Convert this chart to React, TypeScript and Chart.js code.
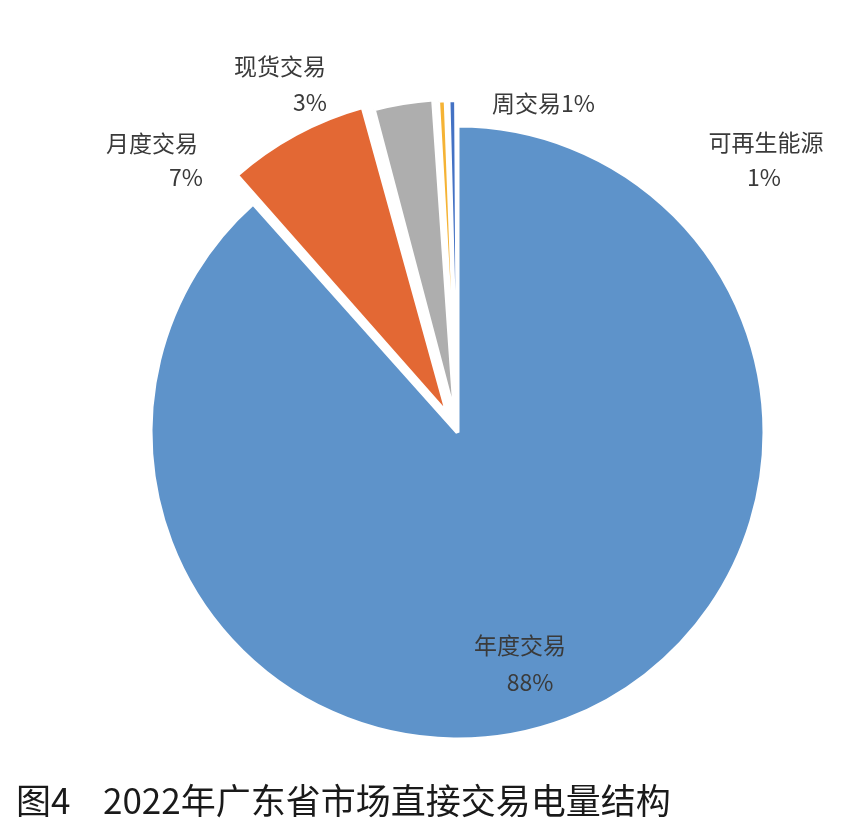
import React, { useEffect, useRef } from 'react';
import { Chart, registerables } from 'chart.js';

Chart.register(...registerables);

// ---- data ----
const categories = ['年度交易', '月度交易', '现货交易', '周交易', '可再生能源'];
const shares = [88.4, 7.4, 3.2, 0.5, 0.5];
const percentLabels = ['88%', '7%', '3%', '1%', '1%'];
const sliceColors = ['#5E93CA', '#E36834', '#AEAEAE', '#F5B335', '#4472C4'];
const sliceOffsets = [0, 84, 60, 50, 50];
const sliceBorders = [4, 4, 4, 2.5, 2.5];
const figureNumber = '图4';
const figureTitle = '2022年广东省市场直接交易电量结构';

// ---- label layout (page coordinates of label centres) ----
type LabelPlace = { name: [number, number]; pct: [number, number] | null; inline?: boolean };
const labelLayout: LabelPlace[] = [
  { name: [520, 645], pct: [530, 682] },
  { name: [152, 143], pct: [186, 177] },
  { name: [280, 66], pct: [310, 102] },
  { name: [492, 103], pct: null, inline: true },
  { name: [766, 142], pct: [764, 177] },
];

const FONT = '"Noto Sans CJK SC", "Noto Sans", sans-serif';

const labelPlugin = {
  id: 'pieLabels',
  afterDraw(chart: any) {
    const ctx = chart.ctx as CanvasRenderingContext2D;
    ctx.save();
    ctx.fillStyle = '#3a3a3a';
    ctx.font = `23px ${FONT}`;
    ctx.textBaseline = 'middle';
    categories.forEach((cat, i) => {
      const lay = labelLayout[i];
      if (lay.inline) {
        ctx.textAlign = 'left';
        ctx.fillText(cat + percentLabels[i], lay.name[0], lay.name[1]);
      } else {
        ctx.textAlign = 'center';
        ctx.fillText(cat, lay.name[0], lay.name[1]);
        if (lay.pct) ctx.fillText(percentLabels[i], lay.pct[0], lay.pct[1]);
      }
    });
    // figure caption
    ctx.fillStyle = '#1a1a1a';
    ctx.font = `35px ${FONT}`;
    ctx.textAlign = 'left';
    ctx.fillText(figureNumber, 16, 801);
    ctx.fillText(figureTitle, 103, 801);
    ctx.restore();
  },
};

export default function App() {
  const ref = useRef<HTMLCanvasElement>(null);
  useEffect(() => {
    if (!ref.current) return;
    const chart = new Chart(ref.current, {
      type: 'pie',
      data: {
        labels: categories,
        datasets: [
          {
            data: shares,
            backgroundColor: sliceColors,
            borderColor: '#ffffff',
            borderWidth: sliceBorders,
            offset: sliceOffsets,
            radius: 307,
            clip: false,
          } as any,
        ],
      },
      options: {
        responsive: false,
        animation: false,
        events: [],
        radius: 307,
        rotation: 0,
        layout: { padding: { left: 50, right: 0, top: 34, bottom: 0 } },
        plugins: {
          legend: { display: false },
          tooltip: { enabled: false },
          title: { display: false },
        },
      } as any,
      plugins: [labelPlugin],
    });
    return () => chart.destroy();
  }, []);
  return (
    <div style={{ position: 'absolute', left: 0, top: 0, width: 865, height: 831, background: '#ffffff' }}>
      <canvas ref={ref} width={865} height={831} style={{ width: 865, height: 831, display: 'block' }} />
    </div>
  );
}
